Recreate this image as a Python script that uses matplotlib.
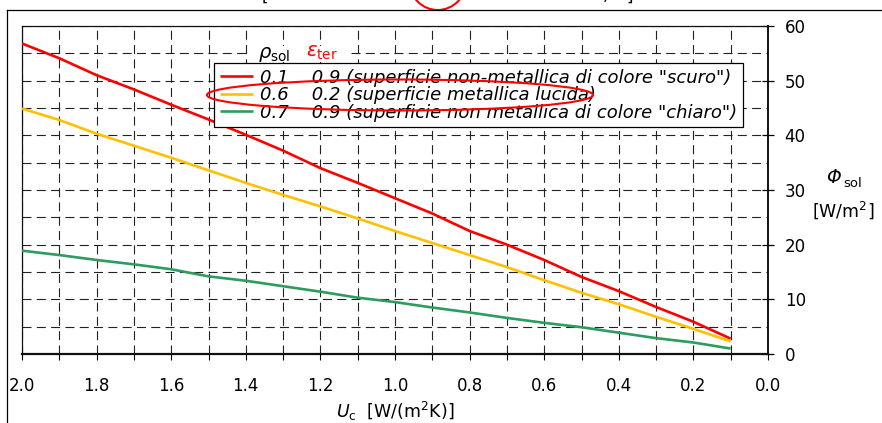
import numpy as np
import matplotlib
matplotlib.use("Agg")
import matplotlib.pyplot as plt
from matplotlib.patches import Ellipse, Rectangle
from matplotlib.lines import Line2D
from matplotlib.ticker import MultipleLocator, FormatStrFormatter

# ---------------- data ----------------
U_c = [2.0, 1.9, 1.8, 1.7, 1.6, 1.5, 1.4, 1.3, 1.2, 1.1,
       1.0, 0.9, 0.8, 0.7, 0.6, 0.5, 0.4, 0.3, 0.2, 0.1]
phi_scuro = [56.8, 54.1, 51.0, 48.4, 45.6, 42.9, 40.1, 37.2, 34.0, 31.3,
             28.5, 25.7, 22.5, 20.0, 17.2, 14.1, 11.5, 8.6, 5.9, 2.8]
phi_lucida = [44.9, 42.8, 40.3, 38.1, 35.9, 33.6, 31.3, 29.1, 27.0, 24.8,
              22.5, 20.3, 18.1, 15.9, 13.5, 11.2, 9.1, 6.8, 4.6, 2.3]
phi_chiaro = [18.9, 18.1, 17.2, 16.4, 15.5, 14.2, 13.4, 12.4, 11.4, 10.3,
              9.5, 8.5, 7.6, 6.6, 5.7, 4.9, 3.9, 2.9, 2.1, 1.0]
series_labels = ['0.1    0.9 (superficie non-metallica di colore "scuro")',
                 '0.6    0.2 (superficie metallica lucida)',
                 '0.7    0.9 (superficie non metallica di colore "chiaro")']
series_colors = ['#FF0000', '#FFC000', '#2E9B5F']
x_ticks = [2.0, 1.8, 1.6, 1.4, 1.2, 1.0, 0.8, 0.6, 0.4, 0.2, 0.0]
y_ticks = [0, 10, 20, 30, 40, 50, 60]

plt.rcParams['font.family'] = ['DejaVu Sans']
plt.rcParams['mathtext.fontset'] = 'dejavusans'
plt.rcParams['lines.scale_dashes'] = False

W, H = 882, 423
fig = plt.figure(figsize=(W / 100, H / 100), dpi=100)


def fx(x):
    return x / W


def fy(y):
    return 1 - y / H


ax = fig.add_axes([fx(22), fy(354), (768 - 22) / W, (354 - 26) / H])

for vals, lab, col in zip([phi_scuro, phi_lucida, phi_chiaro], series_labels, series_colors):
    ax.plot(U_c, vals, color=col, lw=1.9, label=lab, zorder=3, solid_capstyle='butt')

ax.set_xlim(2.0, 0.0)
ax.set_ylim(0, 60)
ax.set_xticks(x_ticks)
ax.xaxis.set_minor_locator(MultipleLocator(0.1))
ax.xaxis.set_major_formatter(FormatStrFormatter('%.1f'))
ax.set_yticks(y_ticks)
ax.yaxis.set_minor_locator(MultipleLocator(5))
ax.yaxis.tick_right()

ax.grid(which='both', color='#222222', lw=0.8, linestyle=(0, (6.5, 3.8)), zorder=1)
ax.set_axisbelow(True)

ax.tick_params(axis='x', which='both', direction='out', length=4.5, width=0.8,
               labelsize=12, pad=12, bottom=True, top=False)
ax.tick_params(axis='y', which='major', direction='inout', length=8, width=0.9,
               labelsize=12, pad=8, right=True, left=False)
ax.tick_params(axis='y', which='minor', length=0, right=False, left=False)

for side, lw in [('top', 0.9), ('left', 0.9), ('bottom', 1.6), ('right', 1.4)]:
    ax.spines[side].set_linewidth(lw)
    ax.spines[side].set_color('#111111')

leg = ax.legend(loc='upper left', bbox_to_anchor=(fx(214), fy(63)),
                bbox_transform=fig.transFigure, borderaxespad=0,
                prop={'style': 'italic', 'size': 13}, handlelength=1.85,
                handletextpad=0.4, labelspacing=-0.03, borderpad=0.32,
                fancybox=False, framealpha=1, edgecolor='black')
leg.get_frame().set_linewidth(0.9)
for line in leg.get_lines():
    line.set_linewidth(1.9)

# header above the legend
fig.add_artist(Rectangle((fx(249), fy(62)), (349 - 249) / W, (62 - 46) / H,
                         transform=fig.transFigure, facecolor='white',
                         edgecolor='none', zorder=2))
fig.text(fx(258), fy(58), r'$\rho_{\rm sol}$', fontsize=14, color='black',
         ha='left', va='baseline', zorder=3)
fig.text(fx(306), fy(57), r'$\varepsilon_{\rm ter}$', fontsize=14, color='#FF0000',
         ha='left', va='baseline', zorder=3)

# red ellipse highlighting the metallic surface row
fig.add_artist(Ellipse((fx(400), fy(95)), 386 / W, 31 / H,
                       transform=fig.transFigure, fill=False,
                       edgecolor='#FF0000', lw=1.5, zorder=10))

# axis labels
fig.text(fx(395), fy(411), r'$U_{\rm c}$  [W/(m$^2$K)]', fontsize=12.5,
         ha='center', va='center')
fig.text(fx(826), fy(183), 'Φ', fontsize=13.5, style='italic',
         ha='left', va='baseline')
fig.text(fx(843), fy(187), 'sol', fontsize=9.5, ha='left', va='baseline')
fig.text(fx(843), fy(210), r'[W/m$^2$]', fontsize=12.5,
         ha='center', va='center')

# outer frame (cropped)
fig.add_artist(Line2D([fx(7), 1.0], [fy(10.5), fy(10.5)], transform=fig.transFigure,
                      color='black', lw=0.9))
fig.add_artist(Line2D([fx(7), fx(7)], [fy(10.5), 0.0], transform=fig.transFigure,
                      color='black', lw=0.9))

# cropped title remnants at the very top
fig.text(fx(262), fy(0.5), '[', fontsize=12, ha='left', va='baseline')
fig.text(fx(603), fy(0.5), ',', fontsize=12, ha='left', va='baseline')
fig.text(fx(633), fy(0.5), ']', fontsize=12, ha='right', va='baseline')
fig.add_artist(Ellipse((fx(437.7), fy(-18)), 56 / W, 56 / H,
                       transform=fig.transFigure, fill=False,
                       edgecolor='#FF0000', lw=1.5))

fig.savefig('out.png', dpi=100)
